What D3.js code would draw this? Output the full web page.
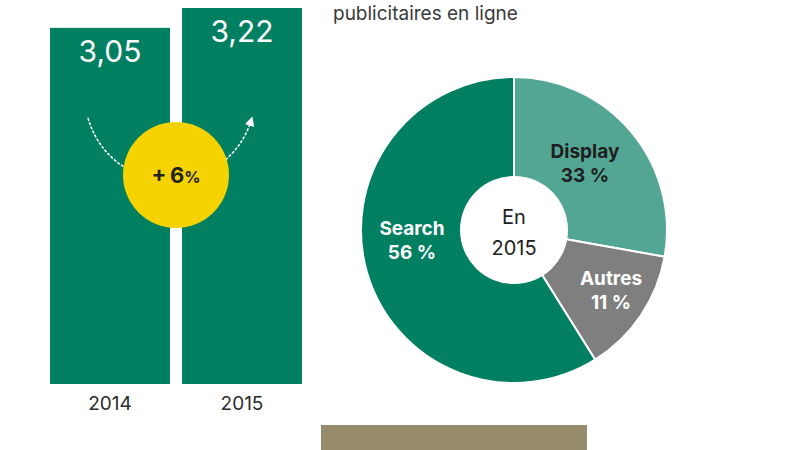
<!DOCTYPE html>
<html lang="fr">
<head>
<meta charset="UTF-8">
<title>Marché publicitaire en ligne</title>
<script src="https://d3js.org/d3.v7.min.js"></script>
<style>
  body { margin: 0; background: #fff; }
  svg text { font-family: Inter, Roboto, "Noto Sans", sans-serif; }
</style>
</head>
<body>
<div id="chart"></div>
<script>
"use strict"

// barres (en milliards d'euros)
var annees = ["2014", "2015"];
var valeurs = [3.05, 3.22];
var valeurLabels = ["3,05", "3,22"];
var croissance = "+6";

// répartition en 2015 (angles) et étiquettes
var segments = ["Display", "Autres", "Search"];
var parts = [27.8, 13.3, 58.9];
var partLabels = ["33 %", "11 %", "56 %"];

var largeur = 800, hauteur = 450;

var svg = d3.select("#chart").append("svg")
    .attr("width", largeur)
    .attr("height", hauteur);

// ---- barres ----
var x = d3.scaleBand()
    .domain(annees)
    .range([50, 302])
    .paddingInner(0.0909)
    .paddingOuter(0);

var y = d3.scaleLinear()
    .domain([0, d3.max(valeurs)])
    .range([384, 8]);

var donneesBarres = annees.map((a, i) => ({annee: a, v: valeurs[i], lab: valeurLabels[i]}));

svg.selectAll("rect.barre")
  .data(donneesBarres)
  .enter()
  .append("rect")
    .attr("class", "barre")
    .attr("x", d => x(d.annee))
    .attr("y", d => y(d.v))
    .attr("width", x.bandwidth())
    .attr("height", d => y(0) - y(d.v))
    .attr("fill", "#007f61");

svg.selectAll("text.valeur")
  .data(donneesBarres)
  .enter()
  .append("text")
    .attr("x", d => x(d.annee) + x.bandwidth() / 2)
    .attr("y", d => y(d.v) + 34)
    .attr("text-anchor", "middle")
    .attr("fill", "#fff")
    .style("font-size", "30px")
    .style("font-weight", 400)
    .text(d => d.lab);

svg.selectAll("text.annee")
  .data(donneesBarres)
  .enter()
  .append("text")
    .attr("x", d => x(d.annee) + x.bandwidth() / 2)
    .attr("y", y(0) + 26)
    .attr("text-anchor", "middle")
    .attr("fill", "#2b2b2b")
    .style("font-size", "19px")
    .text(d => d.annee);

// flèche pointillée
var defs = svg.append("defs");
defs.append("marker")
    .attr("id", "fleche")
    .attr("viewBox", "0 0 10 10")
    .attr("refX", 5).attr("refY", 5)
    .attr("markerWidth", 6).attr("markerHeight", 6)
    .attr("orient", "auto")
  .append("path")
    .attr("d", "M0,0 L10,5 L0,10 z")
    .attr("fill", "#fff");

svg.append("path")
    .attr("d", "M88,118 A85,85 0 0,0 251,121")
    .attr("fill", "none")
    .attr("stroke", "#fff")
    .attr("stroke-width", 1.6)
    .attr("stroke-dasharray", "3,1.5")
    .attr("marker-end", "url(#fleche)");

var cx = x("2015") - (x.step() - x.bandwidth()) / 2;
svg.append("circle")
    .attr("cx", cx)
    .attr("cy", 175)
    .attr("r", 53)
    .attr("fill", "#f5d300");

var txt = svg.append("text")
    .attr("x", cx)
    .attr("y", 183)
    .attr("text-anchor", "middle")
    .attr("fill", "#222")
    .style("font-weight", 700);
txt.append("tspan").style("font-size", "22px").text(croissance.replace("+", "+\u2009"));
txt.append("tspan").style("font-size", "16px").text("%");

// ---- titre ----
svg.append("text")
    .attr("x", 333)
    .attr("y", 20)
    .attr("fill", "#3a3a3a")
    .style("font-size", "19px")
    .text("publicitaires en ligne");

// ---- camembert ----
var centre = [514, 230];
var couleurs = ["#54a694", "#7f7f7f", "#007f61"];
var couleursTexte = ["#1e1e1e", "#fff", "#fff"];

var pie = d3.pie().sort(null).value(d => d.v);
var arc = d3.arc().innerRadius(0).outerRadius(153);
var donneesPie = pie(segments.map((s, i) => ({nom: s, v: parts[i], lab: partLabels[i], i: i})));

var g = svg.append("g")
    .attr("transform", "translate(" + centre[0] + "," + centre[1] + ")");

g.selectAll("path")
  .data(donneesPie)
  .enter()
  .append("path")
    .attr("d", arc)
    .attr("fill", d => couleurs[d.data.i])
    .attr("stroke", "#fff")
    .attr("stroke-width", 2);

g.append("circle")
    .attr("r", 54)
    .attr("fill", "#fff");

var posLabels = [[71, -72], [97, 55], [-102, 5]];

var lab = g.selectAll("text.part")
  .data(donneesPie)
  .enter()
  .append("text")
    .attr("text-anchor", "middle")
    .attr("fill", d => couleursTexte[d.data.i])
    .style("font-size", "19px")
    .style("font-weight", 700);
lab.append("tspan")
    .attr("x", d => posLabels[d.data.i][0])
    .attr("y", d => posLabels[d.data.i][1])
    .text(d => d.data.nom);
lab.append("tspan")
    .attr("x", d => posLabels[d.data.i][0])
    .attr("y", d => posLabels[d.data.i][1] + 24)
    .text(d => d.data.lab);

g.append("text")
    .attr("text-anchor", "middle")
    .attr("y", -6)
    .attr("fill", "#1e1e1e")
    .style("font-size", "20px")
    .text("En");
g.append("text")
    .attr("text-anchor", "middle")
    .attr("y", 25)
    .attr("fill", "#1e1e1e")
    .style("font-size", "20px")
    .text("2015");

// bandeau du bas
svg.append("rect")
    .attr("x", 321)
    .attr("y", 425)
    .attr("width", 266)
    .attr("height", 30)
    .attr("fill", "#968b6b");
</script>
</body>
</html>
